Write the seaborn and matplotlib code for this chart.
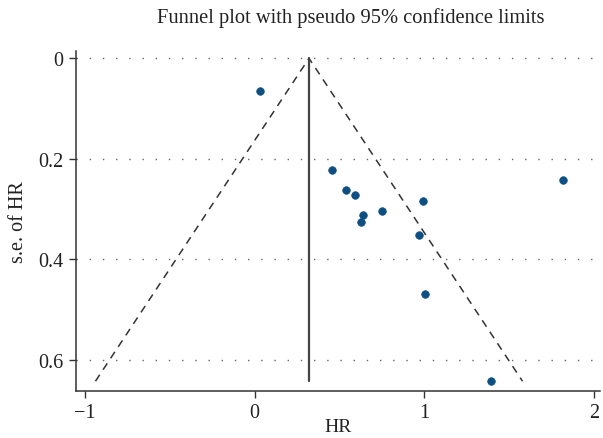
import matplotlib
matplotlib.use("Agg")
import matplotlib.pyplot as plt
import pandas as pd
import seaborn as sns

# 研究数据
hr = [0.034, 0.457, 0.539, 0.592, 0.641, 0.629, 0.753, 0.994, 0.969, 1.006, 1.818, 1.394]
se = [0.066, 0.223, 0.262, 0.272, 0.312, 0.325, 0.304, 0.284, 0.352, 0.469, 0.241, 0.642]

# 合并效应与漏斗范围
pooled = 0.32
se_max = 0.642
z = 1.96

y_ticks = [0, 0.2, 0.4, 0.6]
x_ticks = [-1, 0, 1, 2]

df = pd.DataFrame({"HR": hr, "se": se})
funnel = pd.DataFrame({
    "HR": [pooled - z * se_max, pooled, pooled + z * se_max],
    "se": [se_max, 0, se_max],
})

sns.set_theme(style="ticks")
plt.rcParams["font.family"] = ["Liberation Serif", "DejaVu Serif"]

fig = plt.figure(figsize=(6.03, 4.39), dpi=100)
ax = fig.add_axes([75.5 / 603, 1 - 391.5 / 439, (600 - 75.5) / 603, (391.5 - 52) / 439])

# 水平虚点网格
for yv in y_ticks:
    ax.axhline(yv, color="#666666", lw=1.0, ls=(0, (1, 8.5)), zorder=0)

# 漏斗虚线
sns.lineplot(data=funnel, x="HR", y="se", sort=False, ax=ax, color="#333333",
             lw=1.1, dashes=False, linestyle=(0, (5, 4)), estimator=None)
# 合并效应竖线
ax.plot([pooled, pooled], [0, se_max], color="#444444", lw=1.6)

sns.scatterplot(data=df, x="HR", y="se", ax=ax, color="#0d4f80", s=30,
                edgecolor="#0d4f80", linewidth=0.5, zorder=3)

ax.set_xlim(-1.056, 2.035)
ax.set_ylim(0.6605, -0.0145)
ax.set_xticks(x_ticks)
ax.set_yticks(y_ticks)
ax.set_yticklabels(["0", "0.2", "0.4", "0.6"])
ax.set_xticklabels(["\u22121", "0", "1", "2"])
ax.tick_params(axis="both", direction="out", length=5, width=1, color="#333333",
               labelsize=14.5, labelcolor="#222222", pad=4)

sns.despine(ax=ax)
for side in ["left", "bottom"]:
    ax.spines[side].set_color("#333333")
    ax.spines[side].set_linewidth(1.1)

ax.set_xlabel("HR", fontsize=14, color="#222222", labelpad=-3)
ax.set_ylabel("s.e. of HR", fontsize=14.5, color="#222222", labelpad=7)
fig.text(351 / 603, 1 - 18 / 439, "Funnel plot with pseudo 95% confidence limits",
         ha="center", va="center", fontsize=14.8, color="#222222")

fig.savefig("out.png", dpi=100)
plt.close(fig)
